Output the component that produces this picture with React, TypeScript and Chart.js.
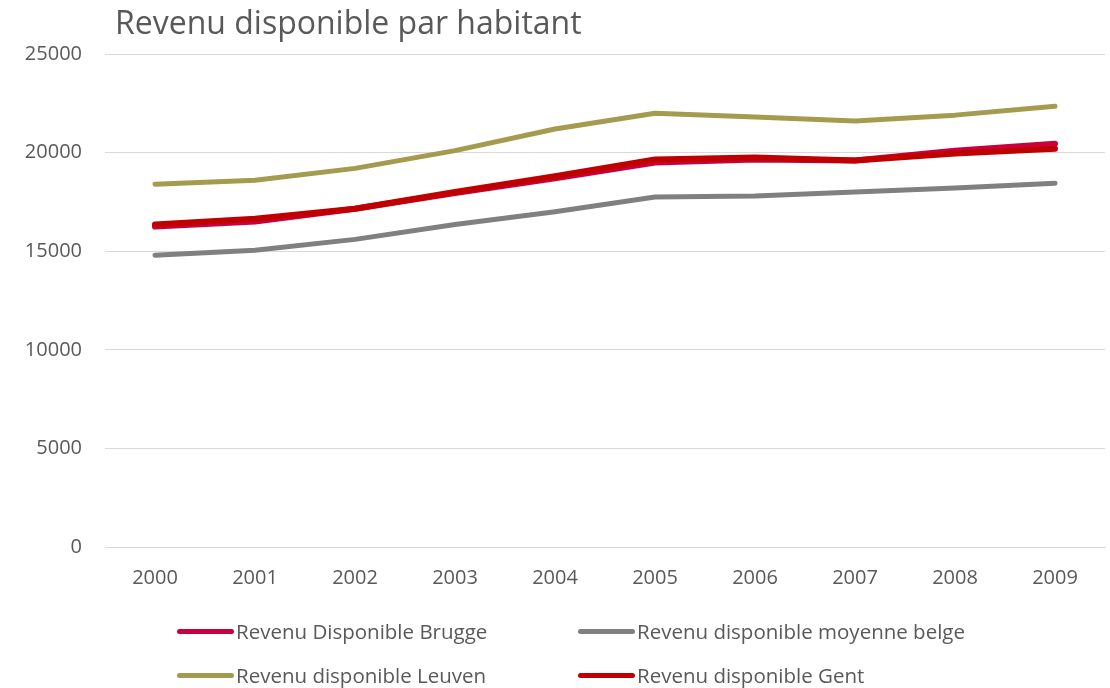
import React, { useEffect, useRef } from "react";
import { Chart, registerables } from "chart.js";

Chart.register(...registerables);

const years = ["2000", "2001", "2002", "2003", "2004", "2005", "2006", "2007", "2008", "2009"];
const brugge = [16250, 16500, 17150, 17950, 18700, 19500, 19650, 19600, 20100, 20450];
const belge = [14800, 15050, 15600, 16350, 17000, 17750, 17800, 18000, 18200, 18450];
const leuven = [18400, 18600, 19200, 20100, 21200, 22000, 21800, 21600, 21900, 22350];
const gent = [16350, 16650, 17150, 18000, 18800, 19650, 19750, 19600, 19950, 20200];
const seriesNames = [
  "Revenu Disponible Brugge",
  "Revenu disponible moyenne belge",
  "Revenu disponible Leuven",
  "Revenu disponible Gent",
];
const seriesColors = ["#C8003C", "#808080", "#A59B4F", "#C00000"];
const titleText = "Revenu disponible par habitant";

const FONT = "'Open Sans', sans-serif";

const titlePlugin = {
  id: "customTitle",
  afterDraw(chart: any) {
    const ctx = chart.ctx;
    ctx.save();
    ctx.font = `32px ${FONT}`;
    ctx.fillStyle = "#595959";
    ctx.textBaseline = "alphabetic";
    ctx.textAlign = "left";
    ctx.fillText(titleText, 115, 34);
    ctx.restore();
  },
};

export default function App() {
  const ref = useRef<HTMLCanvasElement | null>(null);
  useEffect(() => {
    if (!ref.current) return;
    const datas = [brugge, belge, leuven, gent];
    const widths = [6, 5, 5, 6];
    const order = [2, 3, 1, 0];
    const chart = new Chart(ref.current, {
      type: "line",
      data: {
        labels: years,
        datasets: datas.map((d, i) => ({
          label: seriesNames[i],
          data: d,
          borderColor: seriesColors[i],
          backgroundColor: seriesColors[i],
          borderWidth: widths[i],
          pointRadius: 0,
          tension: 0,
          borderCapStyle: "round" as const,
          borderJoinStyle: "round" as const,
          order: order[i],
        })),
      },
      options: {
        animation: false,
        responsive: true,
        maintainAspectRatio: false,
        layout: { padding: { top: 54, right: 5, left: 0, bottom: 0 } },
        plugins: {
          legend: { display: false },
          title: { display: false },
          tooltip: { enabled: false },
        },
        scales: {
          x: {
            offset: true,
            grid: { display: false, drawTicks: false },
            border: { display: true, color: "#D9D9D9", width: 1 },
            ticks: { color: "#595959", font: { family: FONT, size: 20 }, padding: 19 },
            afterFit: (s: any) => {
              s.height = 141;
            },
          },
          y: {
            min: 0,
            max: 25000,
            grid: { color: "#D9D9D9", lineWidth: 1, drawTicks: false },
            border: { display: false },
            ticks: {
              stepSize: 5000,
              color: "#595959",
              font: { family: FONT, size: 20 },
              padding: 23,
              callback: (v: any) => String(v),
            },
            afterFit: (s: any) => {
              s.width = 105;
            },
          },
        },
      },
      plugins: [titlePlugin],
    });
    return () => chart.destroy();
  }, []);

  const legendPos = [
    { x: 177, y: 631 },
    { x: 578, y: 631 },
    { x: 177, y: 675 },
    { x: 578, y: 675 },
  ];

  return (
    <div style={{ position: "fixed", left: 0, top: 0, width: 1110, height: 688, background: "#fff" }}>
      <canvas ref={ref} />
      {seriesNames.map((n, i) => (
        <div
          key={n}
          style={{
            position: "absolute",
            left: legendPos[i].x,
            top: legendPos[i].y - 14,
            height: 28,
            display: "flex",
            alignItems: "center",
            fontFamily: FONT,
            fontSize: 20.5,
            color: "#595959",
            whiteSpace: "nowrap",
          }}
        >
          <span
            style={{
              display: "inline-block",
              width: 57,
              height: 5,
              borderRadius: 3,
              background: seriesColors[i],
              marginRight: 2,
            }}
          />
          <span>{n}</span>
        </div>
      ))}
    </div>
  );
}
